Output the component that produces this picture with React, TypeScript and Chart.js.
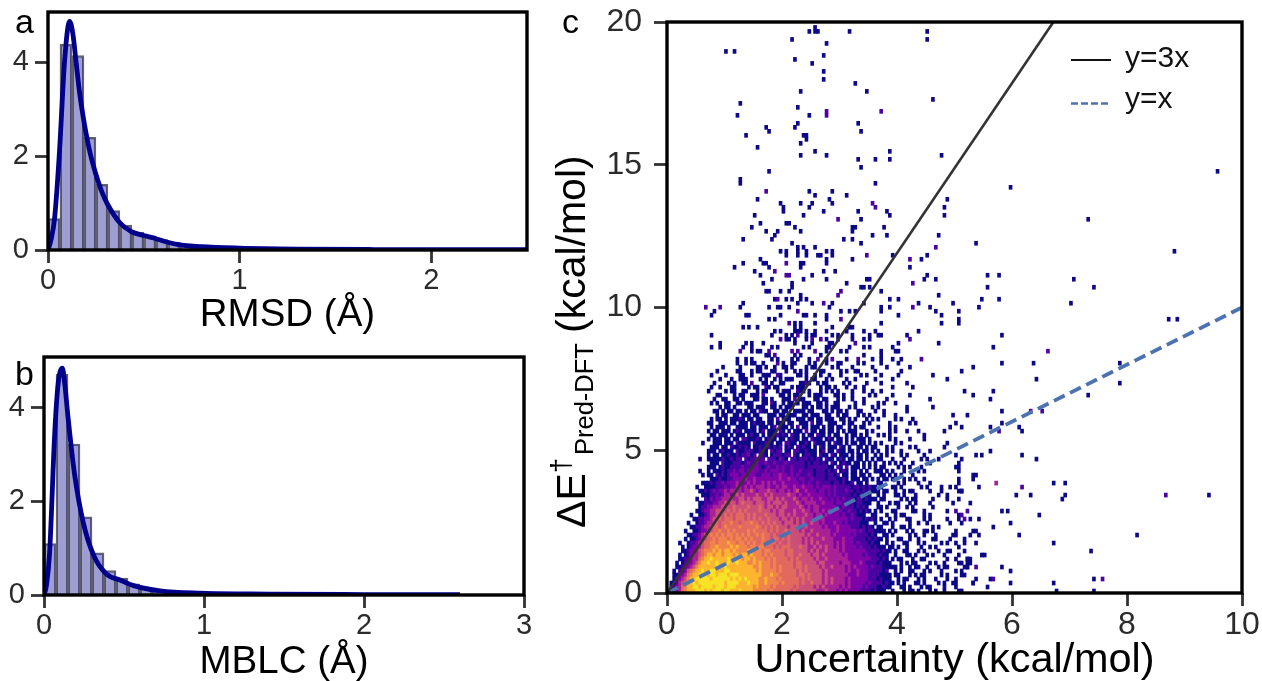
import React, { useEffect, useRef } from "react";
import { Chart, registerables } from "chart.js";

Chart.register(...registerables);

const FONT = "'Liberation Sans', Arial, sans-serif";
const INK = "#2b2b2b";

// Panel a: RMSD
const RMSD_BIN_WIDTH = 0.0625;
const RMSD_BARS = [0.67, 4.38, 4.14, 2.4, 1.4, 0.84, 0.53, 0.38, 0.3, 0.22, 0.17, 0.13, 0.1, 0.08, 0.06, 0.05, 0.04, 0.03, 0.025, 0.02, 0.015, 0.01];
const RMSD_CURVE_X = [0, 0.015, 0.035, 0.06, 0.087, 0.113, 0.13, 0.148, 0.165, 0.183, 0.215, 0.247, 0.28, 0.31, 0.375, 0.435, 0.5, 0.557, 0.62, 0.69, 0.8, 1, 1.3, 1.7, 2.5];
const RMSD_CURVE_Y = [0, 0.2, 0.7, 2.1, 4.05, 4.87, 4.6, 3.95, 3.35, 2.85, 2.15, 1.65, 1.25, 0.98, 0.58, 0.39, 0.31, 0.25, 0.17, 0.11, 0.07, 0.04, 0.02, 0.01, 0.005];

// Panel b: MBLC
const MBLC_BIN_WIDTH = 0.075;
const MBLC_BARS = [1.1, 4.71, 3.22, 1.67, 0.9, 0.52, 0.36, 0.24, 0.16, 0.1, 0.08, 0.06, 0.05, 0.04, 0.03, 0.02, 0.015, 0.01];
const MBLC_CURVE_X = [0, 0.015, 0.035, 0.067, 0.088, 0.115, 0.13, 0.15, 0.19, 0.245, 0.31, 0.39, 0.475, 0.56, 0.725, 0.98, 1.4, 2, 2.6];
const MBLC_CURVE_Y = [0, 0.2, 0.9, 3.45, 4.5, 4.84, 4.5, 3.8, 2.6, 1.55, 0.85, 0.45, 0.32, 0.2, 0.09, 0.04, 0.02, 0.01, 0.005];

// Panel c: 2D histogram. Each character is a cell's colour level, '.' is empty.
const COLUMN_WIDTH = 0.05;
const ROW_HEIGHT = 0.14;
const PLASMA = ["", "#0d0887", "#4b03a1", "#7e03a8", "#a82296", "#cc4f78", "#e2695f", "#f1844b", "#fdb42f", "#f7e225"];
const TOP_DENSE_ROW = 57;
const DENSE_ROWS = [
  "........................1..1.11..1....2.1..11....1.1...1...11.....1.1.....1.....1....................",
  "...................1.....1.....11.1..1..11.1....1.11.....1.1....1......1....1.......1................",
  ".................1......11...1.11...11...1..1.1.1....11.....1.1..11.....1........1...................",
  "...............1....1....11..1...111..21.....11.1..1.1..1...1......1.1....1.....1...........1........",
  "..................1...1..111....1.1..1.1.111....1.11...1.1....1..1......1.....1..................1...",
  "................1....1.1..11.2...11.1..11.....1121..1.11.....1.1.....1....1........1.................",
  "...............1..1...11....1.11..21.11....1.111.....1.11.1...1..1..1.........1......1...............",
  "..............1.....1.11..11...1.11...1.111..211.1...1.1.1.1....1...1..1..1..........................",
  ".................11....1.11..111.2.....11.1.11...1.111....11.1..1.....1.1.....1.....1................",
  "................1..11..11.1...11.11.1...111.2.11...11.11...1.1..1...1.......1..............1.........",
  "...............1.1..11..11.111...11.21..1.11.1.111..11.1..11.....1..1....1.1...1.....................",
  "..................1.11.1....11.111..11.1.111...11.1.11.1.111...1.1.....1.1.........1........1........",
  "................11.1.11.11.1.11.211..11.11..1111.11...11.1.11.1...11....1..1.......1.................",
  ".................1.11..11.111.11...111.11.111..11.111..11..1.11...1.1.1....1...1...................1.",
  "...............1.11.1.11121.11.11..11.2.111..111.11.11.111..11.1.1...1.1.1.....1.1...1...............",
  "..............11..111.11.111.12111.11.111.11..111.2.11..111..1.11...1.1......1......1.1..............",
  "...............1.111.1..1111.11.111.12.111.1.2.11.111.1.11.11..1.1.11....1...1.1..................1.",
  "..............1.11.111.121.1111.12.111.21.1.111.2.11.11.11.1.1.111...1.1.....1.1...1...1........1....",
  "...............11.111.1.111.1211.1.1112121.211.1.11.211.1.11..1.11.1.1...1.1.1...........1...........",
  "..............1.111.11.11.2211121.1211.11.1211.11.2111.121.11.1.1.111.1......1.1....1....1...........",
  "............1...111.111.21111.2111211.11.2211.1121.2111.1.211.1.11.11.1.1.1....1.1...............1...",
  "...............111.11.2112121.1121121212.121.21211.1.21.111.21.1..11.1.11...1.1.....1.1.........1....",
  "..............111.12111.21122211221.2122.11.22112111.12.11.211.11.1.11.1.1..1.1..1.....1...1.........",
  "..............1.11.112112122312.221.1222122.21.12211.211.21.111.1.11.1..1.1.1....1.1.....1...........",
  "...........1..111112112122.2122322.2221321.22122212121.211.121.11.11.1.1.11...1...1.....1.1...1......",
  "...............111.2111222123223223223222322222212122121.21.1211.11.1.1.1..1.1.1.1...1.....1.........",
  "..............111.1211222232223321232232322322221222222211.21.2.111.1.1.1.11....1.1.1...1............",
  "...........1..1.1112122323323333223233323223223222212221212.121.11.1.1..111.1.1...1....1.1...........",
  "............1.11.2121233323333322333233433232322232122212212.11.11.11.1...11.1.1.1...1................",
  "...............111211223333433433333333433433233223222212221121.111.11.1.1.11.1...1.1.1..1............",
  "............11121223233343334343343434334333332323223222212212112.11.1...11.....1.1....1...1..........",
  "..........1..111122232334434343444343343443343343332323332322222122121211.1...11.1......1.1....1..1....",
  "...........112123233434444344543444544344343453343332332323222322121212111.11..1..1.11.....1...1......1.",
  "............11122323443454544445445454444454434334333332323222221212111..1.1...11.1...1.......1..1...",
  "..........1..213233444544554545554455454544454344343343323232322212212111.11.....1.1.11.....1....1.....",
  "...........112223344545545655545554545554544454344443343332332222122111..1...1.11...1.1....1.......1.",
  "...........12233444555565555655565455454554444543434433333322322212121...11.1...1..1.1......1......",
  "..........1123344555565656565555655545455444544544344343433332232212121.1.1...11.....11..1.......1...",
  "........1..1123445556565666565655565554554545444544344343333232232111..11...1..1.11......1.1.......",
  ".........1122334556566656665656565565554554545454443444333333332322212121.1..1.1...11....1.1.....1.....",
  ".......1..122344565666766566676656565655455545454454434333433232222111..1..11.1.....1..1..1.......1.",
  "........1122344566567666676666676565656555455544544444343334333322212121.11...1..11.1.......1.1.......",
  "......1..1123345667667676666767666656565565555454454444443343333332321221111.1.1...1.1...11.1.......1.....",
  ".......112234567676767767676766767665655656555554544544443433333232222121..11.1.....1.1..1...1.....1...",
  "......1.1123456676777676776767666766566565655554545444544433343332222121211.1...11..1..1....11....1......",
  "....1..1223456677677787767767676676666565565555454545444443434333232221211..1.1...11...1.1.....1.1......",
  ".....1.123345667787777878777677677666565666555655445454544343433332322212111.11.1..1....1..1.1.......1....",
  ".....1123345677787878878777787777677666665665555545454454444343333333222221211.1..11...1.1....1..11.........",
  "....1.12344567887887888787887877767676666566556555455454444443433333232221211..1...11.1...1.1...1....1.....",
  "....1122344678898888898888788787776767666656565555545445444444433333333222121.1.11...1..11.......1..1...1..",
  "...1.1233457889889888988988877878777676666665665555545544444344433343222212111...1.1.11....1.1..1.....1.....",
  "...11233457888888988988888888877877767676666566565555454454444343433332322211111.1..1.11..1...1.11......1.....",
  "..1.2235678898899888998888888887877777676666656565555545444444343343332222212..1.1..11...1.1...1....1......",
  "..1133467889898998999899988888888777877666666566565555454444444333433322221111.11...1.1.11.....1.1.....1....",
  "..1234578899999899999989898988887787776766666656565555454544443433333322212111..1.11...1.1...1...1..1......",
  ".112456889899999999989999888988877877776766666565565554545444434333332322221211.1.1...11.1....1.1..1......1..",
  ".12346788998999989998999888888787777676666665655555454544444343433332322211211...11.1...1.11....1...1......",
  "..13467888999898999899888988887777767666666565555555444544434343333222212111..1...1.11.1...1.1..1....1...",
];
// Isolated cells: [row, columns...]
const NAVY_CELLS: number[][] = [
  [58, 24, 27, 29, 36, 38, 43, 45, 49, 55, 62, 71, 74, 78, 81], [59, 34, 35, 44, 46, 53, 68, 74],
  [60, 29, 31, 32, 55, 60, 62, 74, 79, 80], [61, 15, 18, 26, 29, 36, 38, 47, 49, 55, 56, 63, 68, 70, 78],
  [62, 18, 27, 29, 33, 44, 50, 56, 57, 80, 94], [63, 41, 42, 44, 48, 55, 59, 64, 68, 70],
  [64, 15, 36, 41, 43, 48, 50, 51, 57, 59, 64, 70, 73, 74, 83], [65, 37, 39, 44, 45, 46, 48, 51, 55, 62, 68, 72, 87],
  [66, 26, 28, 31, 44, 46, 57, 63, 64], [67, 44, 46, 51, 74, 95], [68, 35, 37, 55],
  [69, 15, 27, 28, 39, 47, 48, 51, 55, 80, 95], [70, 16, 60, 63, 65, 74, 93], [71, 25, 35, 38, 39, 42, 56, 74, 77, 91],
  [72, 26, 45, 50, 57, 68, 87, 99], [73, 37, 41, 43, 46, 48, 77, 80], [74, 46, 94], [75, 34, 35, 39, 42, 74],
  [76, 43, 67, 68, 70], [77, 33, 43, 62], [78, 36, 47, 55, 69, 70, 89, 93], [79, 32, 50, 90], [80, 30, 54, 58],
  [81, 23, 35, 46, 84], [82, 26, 33, 34, 46, 47, 55], [83, 32, 55, 64, 88], [84, 41, 45, 48, 52, 53, 57, 78, 90],
  [85, 39, 41, 45, 48, 55, 57], [86, 45, 47, 51], [87, 43, 67], [88, 26, 36, 61, 64], [89, 37, 71, 76, 94],
  [90, 34, 38, 46, 64], [91, 29, 44, 64, 65, 75], [92, 32, 41, 42], [93, 67], [94, 30, 47, 77, 96], [95, 40, 54, 66, 76],
  [96, 40, 49, 96], [97, 39, 46, 50, 57], [98, 31, 56, 97], [99, 51, 62], [100, 49, 57], [102, 25, 72], [103, 25],
  [105, 35], [106, 67], [108, 66, 72, 77], [109, 46, 55, 95], [110, 51, 77], [111, 31], [112, 46], [113, 48],
  [114, 27, 47, 48], [115, 35, 67], [116, 34, 44], [117, 45, 66], [119, 24, 49], [121, 45], [122, 25], [123, 92],
  [125, 46, 69], [127, 65], [128, 54], [130, 54], [132, 50], [133, 44], [134, 54], [135, 20, 23], [137, 55],
  [138, 43, 90], [140, 49, 51, 52, 63, 90], [141, 51],
  [105, 191], [101, 119], [93, 146], [87, 107], [85, 176], [79, 111, 115], [78, 141], [76, 111, 148], [73, 109, 115],
  [72, 140], [71, 108], [70, 101], [68, 101, 174, 177], [67, 101], [64, 116], [61, 113], [57, 116, 127, 157],
  [56, 106], [55, 102], [53, 128], [52, 157], [50, 103, 113], [49, 106, 146], [48, 112], [45, 116], [44, 104],
  [42, 100, 116], [41, 102, 112, 122], [40, 123], [35, 112], [34, 100, 107, 109, 123], [33, 102, 128], [32, 101],
  [31, 100, 101], [30, 101], [29, 106, 107], [28, 101, 106], [27, 101, 134, 138], [26, 100, 108], [25, 101, 102],
  [24, 121, 126, 138, 188], [23, 101, 137], [22, 105], [20, 116, 118], [19, 101, 129], [18, 101, 105, 108],
  [17, 102, 119], [16, 113], [15, 106, 107], [14, 100, 105, 108, 122, 163], [13, 103], [12, 100, 103, 107, 134],
  [10, 103, 147], [9, 109, 110], [8, 104, 105], [7, 101, 104, 105], [6, 103, 104, 116], [5, 102, 119], [4, 102],
  [3, 107, 112, 148], [2, 100, 106, 119, 134], [1, 111], [0, 102, 135, 148],
];
const PURPLE_CELLS: number[][] = [
  [58, 52, 57, 66, 88], [59, 37], [60, 25, 35, 43, 45, 51, 132], [62, 65], [63, 39, 50, 53, 84], [64, 45], [67, 42],
  [68, 60], [70, 45], [71, 13, 18, 85], [72, 54], [73, 38], [74, 59], [75, 60], [77, 85], [79, 41, 42], [80, 37],
  [82, 41], [83, 84], [84, 69], [86, 93], [93, 59], [96, 72], [97, 71], [100, 34], [119, 55], [120, 55, 74],
  [45, 126, 130], [40, 115], [26, 123], [24, 173], [20, 100, 104], [19, 102], [18, 103], [6, 107], [3, 113, 151],
];
const MAGENTA_CELLS: number[][] = [[27, 114]];

// Reference lines
const LINE_3X_X = [0, 6.72];
const LINE_3X_Y = [0, 20];
const LINE_1X_X = [0, 10];
const LINE_1X_Y = [0, 10];
const LEGEND_LABELS = ["y=3x", "y=x"];

type Cell = { x: number; y: [number, number] };

function buildCells() {
  const data: Cell[] = [];
  const colors: string[] = [];
  const push = (row: number, col: number, level: number) => {
    data.push({ x: (col + 0.5) * COLUMN_WIDTH, y: [row * ROW_HEIGHT, (row + 1) * ROW_HEIGHT] });
    colors.push(PLASMA[level]);
  };
  DENSE_ROWS.forEach((text, i) => {
    const row = TOP_DENSE_ROW - i;
    for (let c = 0; c < text.length; c++) {
      if (text[c] !== ".") push(row, c, Number(text[c]));
    }
  });
  const addList = (list: number[][], level: number) =>
    list.forEach(([row, ...cols]) => cols.forEach((c) => push(row, c, level)));
  addList(NAVY_CELLS, 1);
  addList(PURPLE_CELLS, 2);
  addList(MAGENTA_CELLS, 4);
  return { data, colors };
}

const framePlugin = {
  id: "frame",
  afterDraw(chart: any) {
    const { ctx, chartArea: a } = chart;
    ctx.save();
    ctx.strokeStyle = "#000";
    ctx.lineWidth = 3.4;
    ctx.strokeRect(a.left, a.top, a.right - a.left, a.bottom - a.top);
    ctx.restore();
  },
};

function letterPlugin(letter: string, x: number, y: number) {
  return {
    id: "letter",
    afterDraw(chart: any) {
      const { ctx } = chart;
      ctx.save();
      ctx.fillStyle = "#000";
      ctx.font = `34px ${FONT}`;
      ctx.textAlign = "left";
      ctx.textBaseline = "alphabetic";
      ctx.fillText(letter, x, y);
      ctx.restore();
    },
  };
}

const C_LEFT = 545;

const yTitlePlugin = {
  id: "yTitle",
  afterDraw(chart: any) {
    const { ctx } = chart;
    const parts: [string, number, number, number][] = [
      ["ΔE", 41, 585, 528],
      ["†", 27, 570, 473],
      ["Pred-DFT", 25.5, 593, 455],
      ["(kcal/mol)", 41, 585, 333],
    ];
    ctx.save();
    ctx.fillStyle = "#000";
    ctx.textAlign = "left";
    ctx.textBaseline = "alphabetic";
    for (const [text, size, x, y] of parts) {
      ctx.save();
      ctx.translate(x - C_LEFT, y);
      ctx.rotate(-Math.PI / 2);
      ctx.font = `${size}px ${FONT}`;
      ctx.fillText(text, 0, 0);
      ctx.restore();
    }
    ctx.restore();
  },
};

const legendPlugin = {
  id: "manualLegend",
  afterDraw(chart: any) {
    const { ctx } = chart;
    ctx.save();
    ctx.font = `30px ${FONT}`;
    ctx.fillStyle = "#111";
    ctx.textBaseline = "alphabetic";
    ctx.textAlign = "left";
    ctx.fillText(LEGEND_LABELS[0], 1125 - C_LEFT, 67);
    ctx.fillText(LEGEND_LABELS[1], 1125 - C_LEFT, 108);
    ctx.strokeStyle = "#111";
    ctx.lineWidth = 2;
    ctx.beginPath();
    ctx.moveTo(1071 - C_LEFT, 60);
    ctx.lineTo(1111 - C_LEFT, 60);
    ctx.stroke();
    ctx.strokeStyle = "#4c72b0";
    ctx.lineWidth = 2.5;
    ctx.setLineDash([7, 3]);
    ctx.beginPath();
    ctx.moveTo(1071 - C_LEFT, 103.5);
    ctx.lineTo(1111 - C_LEFT, 103.5);
    ctx.stroke();
    ctx.restore();
  },
};

function axis(opts: {
  max: number;
  step: number;
  fontSize: number;
  size: number;
  horizontal: boolean;
  title?: string;
  titleSize?: number;
  titlePad?: number;
  pad: number;
}) {
  return {
    type: "linear",
    min: 0,
    max: opts.max,
    offset: false,
    border: { display: false },
    grid: { display: true, offset: false, drawOnChartArea: false, drawTicks: true, tickLength: 13, tickWidth: 2.8, tickColor: "#333" },
    ticks: {
      stepSize: opts.step,
      includeBounds: false,
      autoSkip: false,
      maxRotation: 0,
      padding: opts.pad,
      color: INK,
      font: { family: FONT, size: opts.fontSize },
    },
    title: opts.title
      ? {
          display: true,
          text: opts.title,
          color: "#000",
          font: { family: FONT, size: opts.titleSize },
          padding: { top: 0, bottom: opts.titlePad },
        }
      : { display: false },
    afterFit(scale: any) {
      if (opts.horizontal) scale.height = opts.size;
      else scale.width = opts.size;
      scale.paddingTop = 0;
      scale.paddingBottom = 0;
      scale.paddingLeft = 0;
      scale.paddingRight = 0;
    },
  };
}

function histogramConfig(p: {
  bars: number[];
  width: number;
  barPx: number;
  curveX: number[];
  curveY: number[];
  xMax: number;
  yMax: number;
  title: string;
  left: number;
  top: number;
  right: number;
  xHeight: number;
  titlePad: number;
  letter: [string, number, number];
}) {
  return {
    type: "bar",
    data: {
      datasets: [
        {
          type: "line",
          data: p.curveX.map((x, i) => ({ x, y: p.curveY[i] })),
          borderColor: "#00008b",
          borderWidth: 4.8,
          pointRadius: 0,
          cubicInterpolationMode: "monotone",
          order: 1,
        },
        {
          type: "bar",
          data: p.bars.map((y, i) => ({ x: (i + 0.5) * p.width, y })),
          backgroundColor: "rgba(0,0,139,0.38)",
          borderColor: "rgba(40,40,50,0.72)",
          borderWidth: 1.6,
          barThickness: p.barPx,
          grouped: false,
          order: 2,
        },
      ],
    },
    options: {
      responsive: false,
      animation: false,
      layout: { padding: { top: p.top, right: p.right, left: 0, bottom: 0 } },
      plugins: { legend: { display: false }, tooltip: { enabled: false } },
      scales: {
        x: axis({ max: p.xMax, step: 1, fontSize: 29, size: p.xHeight, horizontal: true, title: p.title, titleSize: 38.5, titlePad: p.titlePad, pad: 1 }),
        y: axis({ max: p.yMax, step: 2, fontSize: 29, size: p.left, horizontal: false, pad: 6 }),
      },
    },
    plugins: [framePlugin, letterPlugin(...p.letter)],
  };
}

function heatmapConfig() {
  const { data, colors } = buildCells();
  return {
    type: "bar",
    data: {
      datasets: [
        {
          type: "line",
          data: LINE_3X_X.map((x, i) => ({ x, y: LINE_3X_Y[i] })),
          borderColor: "#333333",
          borderWidth: 2.6,
          pointRadius: 0,
          order: 1,
        },
        {
          type: "line",
          data: LINE_1X_X.map((x, i) => ({ x, y: LINE_1X_Y[i] })),
          borderColor: "#4c72b0",
          borderWidth: 3.8,
          borderDash: [12, 6],
          pointRadius: 0,
          order: 1,
        },
        {
          type: "bar",
          data,
          backgroundColor: colors,
          borderWidth: 0,
          barThickness: 3,
          grouped: false,
          order: 2,
        },
      ],
    },
    options: {
      responsive: false,
      animation: false,
      layout: { padding: { top: 22, right: 20, left: 0, bottom: 0 } },
      plugins: { legend: { display: false }, tooltip: { enabled: false } },
      scales: {
        x: axis({ max: 10, step: 2, fontSize: 32, size: 97, horizontal: true, title: "Uncertainty (kcal/mol)", titleSize: 41.4, titlePad: 5, pad: 0 }),
        y: axis({ max: 20, step: 5, fontSize: 32, size: 122, horizontal: false, pad: 12 }),
      },
    },
    plugins: [framePlugin, yTitlePlugin, legendPlugin, letterPlugin("c", 562 - C_LEFT, 33)],
  };
}

function Panel({ left, top, width, height, make }: { left: number; top: number; width: number; height: number; make: () => any }) {
  const ref = useRef<HTMLCanvasElement>(null);
  useEffect(() => {
    const chart = new Chart(ref.current as HTMLCanvasElement, make());
    return () => chart.destroy();
  }, []);
  return <canvas ref={ref} width={width} height={height} style={{ position: "absolute", left, top, width, height, display: "block" }} />;
}

export default function App() {
  return (
    <div style={{ position: "fixed", left: 0, top: 0, width: 1262, height: 681, overflow: "hidden", background: "#fff" }}>
      <Panel
        left={0}
        top={0}
        width={540}
        height={340}
        make={() =>
          histogramConfig({
            bars: RMSD_BARS, width: RMSD_BIN_WIDTH, barPx: 11.97, curveX: RMSD_CURVE_X, curveY: RMSD_CURVE_Y,
            xMax: 2.5, yMax: 5.07, title: "RMSD (Å)", left: 48, top: 12, right: 13, xHeight: 90, titlePad: 2, letter: ["a", 15, 33],
          })
        }
      />
      <Panel
        left={0}
        top={340}
        width={540}
        height={347}
        make={() =>
          histogramConfig({
            bars: MBLC_BARS, width: MBLC_BIN_WIDTH, barPx: 12, curveX: MBLC_CURVE_X, curveY: MBLC_CURVE_Y,
            xMax: 3, yMax: 5.08, title: "MBLC (Å)", left: 44, top: 17, right: 16, xHeight: 92, titlePad: 2, letter: ["b", 15, 45],
          })
        }
      />
      <Panel left={C_LEFT} top={0} width={717} height={690} make={heatmapConfig} />
    </div>
  );
}
